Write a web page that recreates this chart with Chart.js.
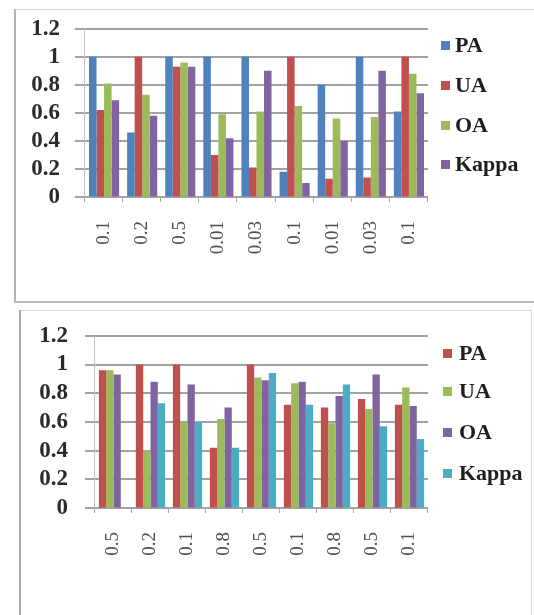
<!DOCTYPE html>
<html>
<head>
<meta charset="utf-8">
<script src="https://cdn.jsdelivr.net/npm/chart.js@4"></script>
<style>
  html, body { margin: 0; padding: 0; background: #ffffff; }
  body { width: 534px; height: 615px; position: relative; overflow: hidden; }
  .cv { position: absolute; left: 0; }
  .line { position: absolute; }
  .leg { position: absolute; font-family: "Liberation Serif", serif; font-weight: bold; font-size: 22px; color: #1e1e1e; line-height: 24px; white-space: nowrap; }
  .sq { position: absolute; width: 9px; height: 9px; }
</style>
</head>
<body>
<canvas id="c1" class="cv" width="534" height="300" style="top:0px"></canvas>
<canvas id="c2" class="cv" width="534" height="310" style="top:305px"></canvas>
<div class="line" style="left:14px;top:9px;width:520px;height:1px;background:#d4d4d4"></div>
<div class="line" style="left:14px;top:9px;width:2px;height:293px;background:#b4b4b4"></div>
<div class="line" style="left:14px;top:301px;width:520px;height:2px;background:#bdbdbd"></div>
<div class="line" style="left:20px;top:310px;width:512px;height:1px;background:#dcdcdc"></div>
<div class="line" style="left:19px;top:310px;width:2px;height:305px;background:#a8a8a8"></div>
<div class="line" style="left:531px;top:310px;width:1px;height:305px;background:#dcdcdc"></div>
<div id="legendHost"></div>
<script>
// ---------- data ----------
const topCategories = ['0.1', '0.2', '0.5', '0.01', '0.03', '0.1', '0.01', '0.03', '0.1'];
const topPA    = [1.00, 0.46, 1.00, 1.00, 1.00, 0.18, 0.80, 1.00, 0.61];
const topUA    = [0.62, 1.00, 0.93, 0.30, 0.21, 1.00, 0.13, 0.14, 1.00];
const topOA    = [0.81, 0.73, 0.96, 0.59, 0.61, 0.65, 0.56, 0.57, 0.88];
const topKappa = [0.69, 0.58, 0.93, 0.42, 0.90, 0.10, 0.40, 0.90, 0.74];

const bottomCategories = ['0.5', '0.2', '0.1', '0.8', '0.5', '0.1', '0.8', '0.5', '0.1'];
const bottomPA    = [0.96, 1.00, 1.00, 0.42, 1.00, 0.72, 0.70, 0.76, 0.72];
const bottomUA    = [0.96, 0.40, 0.60, 0.62, 0.91, 0.87, 0.59, 0.69, 0.84];
const bottomOA    = [0.93, 0.88, 0.86, 0.70, 0.89, 0.88, 0.78, 0.93, 0.71];
const bottomKappa = [0.00, 0.73, 0.60, 0.42, 0.94, 0.72, 0.86, 0.57, 0.48];

const seriesNames = ['PA', 'UA', 'OA', 'Kappa'];

const BLUE = '#4F81BD', RED = '#C0504D', GREEN = '#9BBB59', PURPLE = '#8064A2', CYAN = '#4BACC6';
const topColors = [BLUE, RED, GREEN, PURPLE];
const bottomColors = [RED, GREEN, PURPLE, CYAN];
const CLEAR = 'rgba(0,0,0,0)';

function paintAxes(chart) {
  const ctx = chart.ctx, ca = chart.chartArea;
  const xs = chart.scales.x, ys = chart.scales.y;
  ctx.fillStyle = '#a2a2a2';
  ys.ticks.forEach(t => {
    const py = Math.round(ys.getPixelForValue(t.value));
    ctx.fillRect(ca.left - 10, py - 1, ca.right - ca.left + 10, 2);
  });
  ctx.fillStyle = '#c0c0c0';
  ctx.fillRect(Math.round(ca.left) - 1, ca.top, 1, ca.bottom - ca.top);
  ctx.fillStyle = '#a8a8a8';
  const n = xs.ticks.length;
  const w = xs.getPixelForValue(1) - xs.getPixelForValue(0);
  const x0 = xs.getPixelForValue(0) - w / 2;
  for (let i = 0; i <= n; i++) {
    ctx.fillRect(Math.round(x0 + i * w) - 1, ca.bottom, 1, 5);
  }
}

const excelAxes = {
  id: 'excelAxes',
  beforeDatasetsDraw(chart) {
    chart.ctx.save();
    paintAxes(chart);
    chart.ctx.restore();
  },
  afterDraw(chart) {
    // paint again only where the canvas is still empty (i.e. behind bars and labels)
    chart.ctx.save();
    chart.ctx.globalCompositeOperation = 'destination-over';
    paintAxes(chart);
    chart.ctx.restore();
  }
};

function makeChart(id, cats, seriesData, colors, g) {
  return new Chart(document.getElementById(id).getContext('2d'), {
    type: 'bar',
    data: {
      labels: cats,
      datasets: seriesData.map((d, i) => ({
        label: seriesNames[i], data: d, backgroundColor: colors[i],
        borderWidth: 0, categoryPercentage: 0.79, barPercentage: 1.0
      }))
    },
    plugins: [excelAxes],
    options: {
      responsive: false, devicePixelRatio: 1, animation: false, events: [],
      layout: { padding: { top: g.top, right: 106, left: 0, bottom: 0 } },
      plugins: { legend: { display: false }, tooltip: { enabled: false } },
      scales: {
        x: {
          grid: { display: true, drawOnChartArea: false, tickLength: 5, color: CLEAR, offset: true },
          border: { display: false },
          ticks: { minRotation: 90, maxRotation: 90, autoSkip: false, padding: 19,
                   font: { family: 'Liberation Serif', size: 19 }, color: '#505050' },
          afterFit: s => { s.height = g.xh; }
        },
        y: {
          min: 0, max: 1.2,
          grid: { display: true, color: CLEAR, tickLength: 10 },
          border: { display: false },
          ticks: { stepSize: 0.2, autoSkip: false, padding: g.ypad,
                   font: { family: 'Liberation Serif', size: 23, weight: 'bold' }, color: '#2a2a2a',
                   callback: v => String(parseFloat(Number(v).toFixed(1))) },
          afterFit: s => { s.width = g.yw; }
        }
      }
    }
  });
}

makeChart('c1', topCategories, [topPA, topUA, topOA, topKappa], topColors, { top: 23, xh: 103, yw: 85, ypad: 15 });
makeChart('c2', bottomCategories, [bottomPA, bottomUA, bottomOA, bottomKappa], bottomColors, { top: 23, xh: 107, yw: 95, ypad: 17 });

function makeLegend(colors, sqX, txtX, centers) {
  const host = document.getElementById('legendHost');
  seriesNames.forEach((name, i) => {
    const sq = document.createElement('div');
    sq.className = 'sq';
    sq.style.left = sqX + 'px';
    sq.style.top = (centers[i] - 4) + 'px';
    sq.style.background = colors[i];
    host.appendChild(sq);
    const t = document.createElement('div');
    t.className = 'leg';
    t.textContent = name;
    t.style.left = txtX + 'px';
    t.style.top = (centers[i] - 12) + 'px';
    host.appendChild(t);
  });
}
makeLegend(topColors, 441, 455, [45, 85, 125, 164]);
makeLegend(bottomColors, 443, 459, [353, 391, 432, 473]);
</script>
</body>
</html>
